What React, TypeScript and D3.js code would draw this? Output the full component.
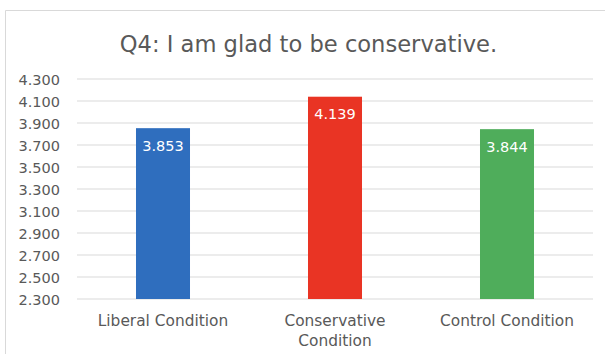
import React from "react";
import * as d3 from "d3";

const categories = ["Liberal Condition", "Conservative Condition", "Control Condition"];
const categoryLines = [["Liberal Condition"], ["Conservative", "Condition"], ["Control Condition"]];
const values = [3.853, 4.139, 3.844];
const barColors = ["#2F6EBE", "#E93424", "#4FAD5B"];
const yTicks = [2.3, 2.5, 2.7, 2.9, 3.1, 3.3, 3.5, 3.7, 3.9, 4.1, 4.3];
const title = "Q4: I am glad to be conservative.";

const W = 605;
const H = 354;
const FONT = "'DejaVu Sans', 'Open Sans', sans-serif";

export default function App() {
  const x = d3
    .scaleBand<string>()
    .domain(categories)
    .range([77, 593])
    .paddingInner(0.686)
    .paddingOuter(0.343);
  const y = d3.scaleLinear().domain([2.3, 4.3]).range([299, 79]);

  return (
    <svg
      width={W}
      height={H}
      style={{ position: "fixed", left: 0, top: 0, background: "#fff" }}
      fontFamily={FONT}
    >
      <rect x={0} y={0} width={W} height={H} fill="#fff" />
      <path d={`M5.5,${H + 2} V10.5 H${W + 2}`} fill="none" stroke="#D9D9D9" strokeWidth={1} />
      <text x={308.5} y={52} textAnchor="middle" fontSize={22.6} fill="#595959">
        {title}
      </text>
      {yTicks.map((t) => (
        <g key={t}>
          <line x1={77} x2={593} y1={y(t)} y2={y(t)} stroke="#D9D9D9" strokeWidth={1} />
          <text x={60} y={y(t) + 5.5} textAnchor="end" fontSize={14.5} fill="#595959">
            {d3.format(".3f")(t)}
          </text>
        </g>
      ))}
      {categories.map((c, i) => (
        <g key={c}>
          <rect
            x={x(c)}
            y={y(values[i])}
            width={x.bandwidth()}
            height={y(2.3) - y(values[i])}
            fill={barColors[i]}
          />
          <text
            x={(x(c) as number) + x.bandwidth() / 2}
            y={y(values[i]) + 22.5}
            textAnchor="middle"
            fontSize={14.5}
            fill="#fff"
          >
            {d3.format(".3f")(values[i])}
          </text>
          {categoryLines[i].map((ln, j) => (
            <text
              key={j}
              x={(x(c) as number) + x.bandwidth() / 2}
              y={326 + j * 20}
              textAnchor="middle"
              fontSize={15.4}
              fill="#595959"
            >
              {ln}
            </text>
          ))}
        </g>
      ))}
    </svg>
  );
}
